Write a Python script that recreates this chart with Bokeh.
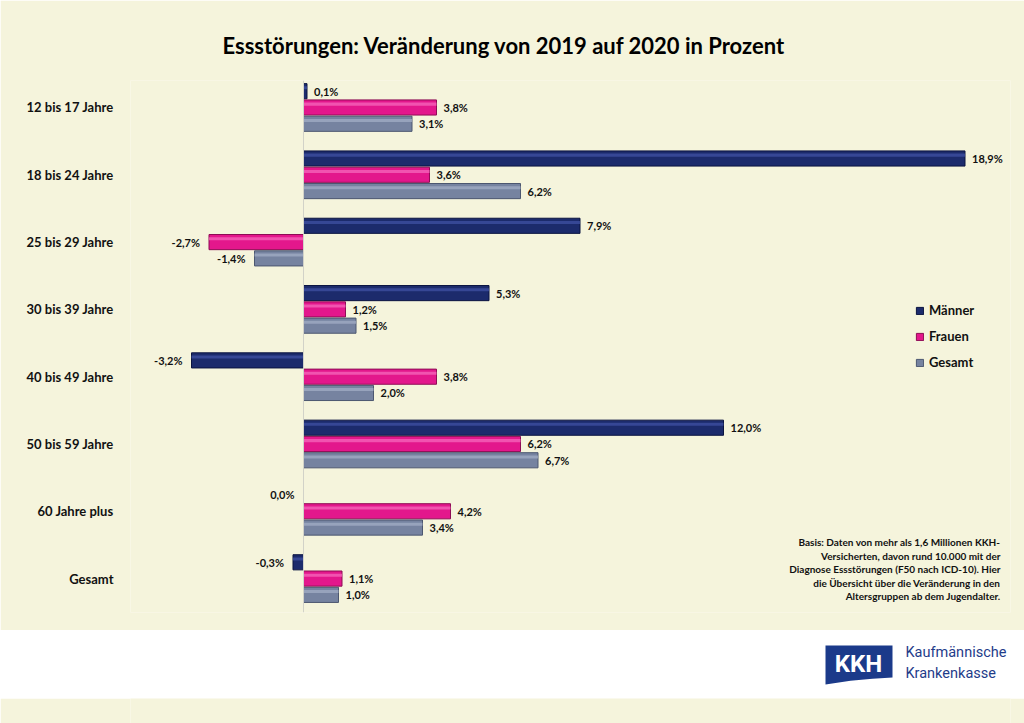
from bokeh.plotting import figure
from bokeh.models import ColumnDataSource, Range1d, FixedTicker, Span, Legend, LegendItem, Label
from bokeh.layouts import column
from bokeh.core.properties import value
from bokeh.embed import file_html
from bokeh.resources import INLINE

# ---------------- data ----------------
categories = ["12 bis 17 Jahre", "18 bis 24 Jahre", "25 bis 29 Jahre", "30 bis 39 Jahre",
              "40 bis 49 Jahre", "50 bis 59 Jahre", "60 Jahre plus", "Gesamt"]
series_names = ["Männer", "Frauen", "Gesamt"]
maenner = [0.1, 18.9, 7.9, 5.3, -3.2, 12.0, 0.0, -0.3]
frauen = [3.8, 3.6, -2.7, 1.2, 3.8, 6.2, 4.2, 1.1]
gesamt = [3.1, 6.2, -1.4, 1.5, 2.0, 6.7, 3.4, 1.0]
title_text = "Essstörungen: Veränderung von 2019 auf 2020 in Prozent"
note_lines = ["Basis: Daten von mehr als 1,6 Millionen KKH-",
              "Versicherten, davon rund 10.000 mit der",
              "Diagnose Essstörungen (F50 nach ICD-10). Hier",
              "die Übersicht über die Veränderung in den",
              "Altersgruppen ab dem Jugendalter."]

# ---------------- style ----------------
CREAM = "#F5F4DC"
FONT = "Lato"
fills = ["#1C2B6C", "#E3178C", "#7683A0"]
borders = ["#0B1440", "#8E0C55", "#4C5770"]
highlights = ["#3F52A3", "#F668BC", "#A3AEC6"]
offsets = [-0.242, 0.0, 0.242]
bar_h = 0.225
LEFT, RIGHT = 130, 14

p = figure(width=1024, height=630, output_backend="svg", toolbar_location=None,
           x_range=Range1d(-173 / 35.0, 707 / 35.0), y_range=Range1d(7.504, -0.401),
           min_border_left=LEFT, min_border_right=RIGHT, min_border_top=80, min_border_bottom=18,
           background_fill_color=CREAM, border_fill_color=CREAM, outline_line_color=None)

p.title.text = title_text
p.title.align = "left"
p.title.offset = 92
p.title.text_font = FONT
p.title.text_font_style = "bold"
p.title.text_font_size = "22px"
p.title.text_color = "#000000"
p.title.standoff = 43

p.xaxis.visible = False
p.xgrid.visible = False
p.ygrid.visible = False
p.yaxis.ticker = FixedTicker(ticks=list(range(len(categories))))
p.yaxis.major_label_overrides = {i: c for i, c in enumerate(categories)}
p.yaxis.axis_line_color = None
p.yaxis.major_tick_line_color = None
p.yaxis.minor_tick_line_color = None
p.yaxis.major_label_standoff = 11
p.yaxis.major_label_text_font = FONT
p.yaxis.major_label_text_font_style = "bold"
p.yaxis.major_label_text_font_size = "13px"
p.yaxis.major_label_text_color = "#111111"

p.add_layout(Span(location=0, dimension="height", line_color="#D2D2C8", line_width=1))

def fmt(v):
    return ("%.1f" % v).replace(".", ",") + "%"

legend_items = []
for s, vals in enumerate([maenner, frauen, gesamt]):
    ys = [i + offsets[s] for i in range(len(categories))]
    src = ColumnDataSource(dict(y=ys, yh=[y - 0.05 for y in ys], right=vals, left=[0] * len(vals),
                                lab=[fmt(v) for v in vals],
                                align=["left" if v > 0 else "right" for v in vals],
                                xo=[7 if v > 0 else -9 for v in vals]))
    r = p.hbar(y="y", left="left", right="right", height=bar_h, source=src,
               fill_color=fills[s], line_color=borders[s], line_width=1)
    p.hbar(y="yh", left="left", right="right", height=bar_h * 0.2, source=src,
           fill_color=highlights[s], line_color=None, fill_alpha=0.75)
    p.text(x="right", y="y", text="lab", source=src, text_align="align", x_offset="xo",
           text_baseline="middle", text_font=value(FONT), text_font_style="bold",
           text_font_size="11px", text_color="#111111")
    legend_items.append(LegendItem(label=series_names[s], renderers=[r]))

legend = Legend(items=legend_items, location=(785, 242), orientation="vertical",
                background_fill_alpha=0, border_line_color=None, padding=0, margin=0,
                spacing=10, glyph_width=9, glyph_height=9, label_standoff=5,
                label_text_font=FONT, label_text_font_style="bold",
                label_text_font_size="13px", label_text_color="#111111")
p.add_layout(legend)

for k, line in enumerate(note_lines):
    py = 542 + 13.5 * k
    p.add_layout(Label(x=697 / 35.0, y=(py - 107) / 67.3, text=line, text_align="right",
                       text_baseline="middle", text_font=FONT, text_font_style="bold",
                       text_font_size="10px", text_color="#111111"))

# ---------------- footer band with logo ----------------
f = figure(width=1024, height=68, output_backend="svg", toolbar_location=None,
           x_range=Range1d(LEFT, 1024 - RIGHT), y_range=Range1d(68, 0),
           min_border_left=LEFT, min_border_right=RIGHT, min_border_top=0, min_border_bottom=0,
           background_fill_color="#FFFFFF", border_fill_color="#FFFFFF", outline_line_color=None)
f.xaxis.visible = False
f.yaxis.visible = False
f.xgrid.visible = False
f.ygrid.visible = False
f.patch(x=[825, 892, 892, 872, 850, 825], y=[15, 15, 47, 48.3, 50.3, 54],
        fill_color="#1B3A8A", line_color=None)
f.text(x=[858], y=[33], text=["KKH"], text_align="center", text_baseline="middle",
       text_font=value("Roboto"), text_font_style="bold", text_font_size="24px", text_color="#FFFFFF")
f.text(x=[905, 905], y=[22, 43], text=["Kaufmännische", "Krankenkasse"], text_align="left",
       text_baseline="middle", text_font=value("Roboto"), text_font_size="14.5px", text_color="#1F3C8A")

g = figure(width=1024, height=25, output_backend="svg", toolbar_location=None,
           x_range=Range1d(0, 1), y_range=Range1d(0, 1),
           min_border_left=LEFT, min_border_right=RIGHT, min_border_top=0, min_border_bottom=0,
           background_fill_color=CREAM, border_fill_color=CREAM, outline_line_color=None)
g.xaxis.visible = False
g.yaxis.visible = False
g.xgrid.visible = False
g.ygrid.visible = False

out = column(p, f, g, spacing=0)
open("out.html", "w").write(file_html(out, INLINE))
